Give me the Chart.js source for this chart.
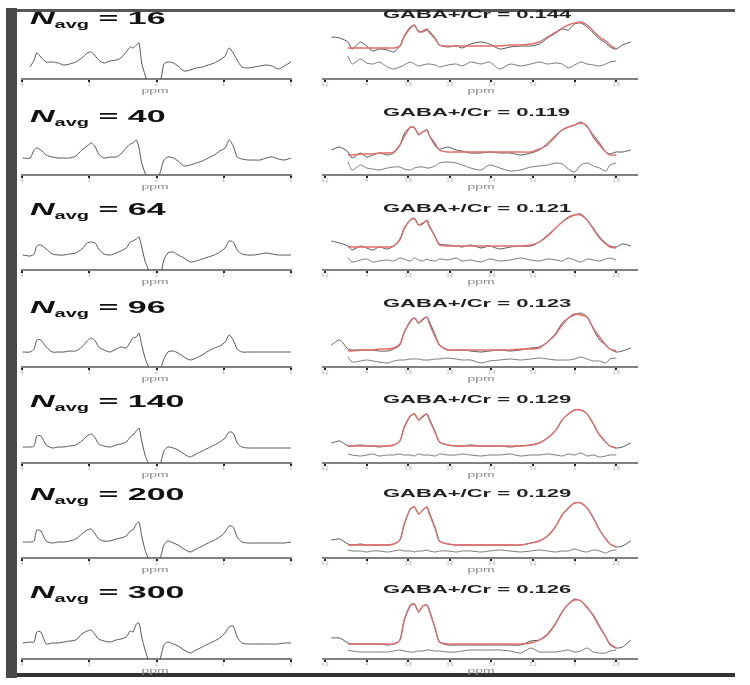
<!DOCTYPE html>
<html>
<head>
<meta charset="utf-8">
<script src="https://cdn.jsdelivr.net/npm/chart.js@4.4.0/dist/chart.umd.min.js"></script>
<style>
  body { margin: 0; width: 750px; height: 685px; background: #fff; position: relative; overflow: hidden; font-family: "Liberation Sans", Arial, sans-serif; }
  .marco { position: absolute; }
  #marcoIzq { left: 6px; top: 8px; width: 11px; height: 670px; background: #4a4a4a; }
  #marcoSup { left: 17px; top: 9px; width: 718px; height: 3px; background: #555; }
  #marcoInf { left: 17px; top: 673px; width: 718px; height: 4px; background: #333; }
  canvas { position: absolute; }
  .navg { position: absolute; left: 30px; font-weight: bold; font-size: 17px; line-height: 1; color: #111; white-space: nowrap; transform: scaleX(2); transform-origin: 0 0; }
  .navg i { font-style: italic; }
  .navg sub { font-size: 10px; vertical-align: -4px; line-height: 1; }
  .ratio { position: absolute; left: 383px; font-weight: bold; font-size: 11px; line-height: 1; color: #222; white-space: nowrap; transform: scaleX(2); transform-origin: 0 0; }
  .ppm { position: absolute; font-size: 7px; line-height: 1; color: #888; white-space: nowrap; transform: scaleX(2) translateX(-50%); transform-origin: 0 0; }
</style>
</head>
<body>
<div class="marco" id="marcoIzq"></div>
<div class="marco" id="marcoSup"></div>
<div class="marco" id="marcoInf"></div>
<script>
// chemical shift grids (ppm)
const leftPpm = [
  3.99, 3.88, 3.82, 3.78, 3.72, 3.64, 3.55, 3.46, 3.38, 3.29,
  3.20, 3.11, 3.03, 2.97, 2.91, 2.86, 2.78, 2.69, 2.60, 2.53,
  2.45, 2.39, 2.35, 2.30, 2.26, 2.22, 2.17, 2.13, 2.07, 1.99,
  1.93, 1.89, 1.83, 1.75, 1.68, 1.59, 1.50, 1.41, 1.32, 1.23,
  1.14, 1.06, 0.98, 0.92, 0.86, 0.80, 0.73, 0.64, 0.55, 0.46,
  0.37, 0.28, 0.19, 0.10, 0.00
];
const rightPpm = [
  4.17, 4.13, 4.09, 4.07, 4.03, 4.00, 3.97, 3.94, 3.90, 3.87,
  3.84, 3.82, 3.79, 3.77, 3.75, 3.73, 3.71, 3.70, 3.67, 3.65,
  3.61, 3.57, 3.54, 3.50, 3.45, 3.41, 3.36, 3.31, 3.26, 3.21,
  3.17, 3.13, 3.09, 3.06, 3.03, 3.00, 2.97, 2.94, 2.91, 2.88,
  2.85, 2.83, 2.80, 2.77, 2.73
];
const leftTicks = [4, 3, 2, 1, 0];
const rightTicks = [4.2, 4, 3.8, 3.6, 3.4, 3.2, 3, 2.8];

const nAvg = [16, 40, 64, 96, 140, 200, 300];
const gabaCr = ["0.144", "0.119", "0.121", "0.123", "0.129", "0.129", "0.126"];

// difference spectra (left column)
const spec16 = [
  null, 12, 19, 26, 22, 17, 17, 16, 14, 15,
  17, 21, 26, 27, 23, 19, 16, 18, 19, 21,
  27, 32, 31, 34, 36, 16, 4, -4, -12, -10,
  1, 15, 17, 16, 13, 8, 9, 11, 12, 14,
  16, 19, 23, 31, 26, 19, 12, 11, 12, 13,
  14, 13, 10, 13, 17
];
const spec40 = [
  17, 17, 25, 27, 25, 20, 18, 17, 17, 17,
  19, 25, 29, 32, 28, 21, 17, 18, 18, 21,
  27, 31, 32, 35, 27, 12, 2, -5, -12, -6,
  6, 15, 18, 17, 14, 9, 10, 12, 14, 17,
  20, 24, 27, 35, 29, 18, 16, 15, 15, 15,
  17, 18, 16, 15, 17
];
const spec64 = [
  15, 14, 16, 24, 25, 21, 16, 15, 15, 16,
  17, 21, 27, 28, 27, 21, 16, 15, 17, 19,
  22, 28, 29, 31, 33, 23, 9, 2, -8, -10,
  -2, 10, 17, 18, 15, 12, 8, 9, 11, 13,
  15, 18, 22, 29, 28, 20, 16, 15, 15, 16,
  17, 16, 15, 15, 15
];
const spec96 = [
  15, 15, 18, 27, 27, 20, 15, 15, 15, 16,
  16, 20, 26, 29, 26, 20, 17, 15, 18, 20,
  19, 25, 29, 30, 34, 22, 9, 2, -6, -8,
  0, 8, 15, 16, 14, 10, 7, 9, 12, 16,
  19, 21, 25, 32, 27, 18, 15, 15, 15, 15,
  15, 15, 15, 15, 15
];
const spec140 = [
  16, 16, 17, 27, 27, 18, 15, 16, 16, 17,
  18, 22, 27, 29, 25, 19, 17, 16, 18, 19,
  21, 26, 28, 32, 35, 22, 8, 1, -7, -8,
  2, 12, 16, 15, 13, 9, 6, 9, 12, 15,
  18, 21, 25, 31, 30, 20, 16, 15, 15, 15,
  15, 15, 15, 15, 15
];
const spec200 = [
  16, 16, 17, 28, 27, 17, 15, 16, 16, 17,
  19, 24, 28, 29, 24, 19, 17, 17, 19, 20,
  22, 27, 28, 34, 36, 22, 8, 1, -7, -8,
  3, 13, 17, 15, 13, 9, 6, 9, 12, 15,
  18, 21, 26, 32, 31, 21, 16, 15, 15, 15,
  15, 15, 15, 15, 16
];
const spec300 = [
  16, 17, 17, 27, 27, 15, 16, 16, 17, 18,
  19, 25, 28, 29, 24, 20, 18, 17, 19, 20,
  22, 28, 27, 35, 36, 22, 9, 1, -8, -8,
  4, 14, 17, 15, 13, 9, 6, 9, 12, 15,
  18, 21, 26, 32, 33, 22, 16, 15, 15, 15,
  15, 15, 15, 16, 16
];

// GABA fit region (right column): data, fit, residual
const data16 = [
  42, 41, 37, 30, 37, 33, 28, 30, 29, 27,
  33, 43, 52, 53, 48, 47, 49, 48, 41, 34,
  32, 33, 31, 35, 37, 35, 30, 32, 33, 33,
  35, 41, 46, 50, 49, 55, 56, 52, 46, 40,
  36, 32, 30, 34, 37
];
const fit16 = [
  null, null, 31, 31, 31, 31, 31, 31, 31, 31,
  33, 42, 51, 54, 47, 48, 50, 47, 40, 34,
  33, 33, 33, 33, 33, 33, 33, 34, 34, 35,
  37, 42, 47, 51, 54, 56, 57, 54, 48, 42,
  38, 34, 30, null, null
];
const res16 = [
  null, null, 23, 15, 20, 16, 15, 17, 12, 10,
  12, 14, 17, 15, 13, 14, 15, 15, 14, 12,
  14, 15, 13, 17, 15, 17, 10, 15, 13, 15,
  17, 15, 16, 15, 11, 14, 17, 15, 14, 13,
  15, 17, 18, null, null
];
const data40 = [
  25, 28, 23, 17, 22, 18, 20, 22, 20, 22,
  30, 41, 48, 47, 40, 43, 45, 40, 29, 26,
  28, 25, 24, 22, 22, 23, 22, 22, 20, 22,
  25, 32, 40, 45, 48, 50, 53, 48, 40, 32,
  23, 21, 23, 23, 25
];
const fit40 = [
  null, null, 20, 20, 21, 21, 21, 22, 22, 23,
  30, 38, 48, 47, 41, 43, 45, 40, 31, 25,
  23, 23, 23, 23, 23, 23, 23, 23, 23, 23,
  26, 30, 39, 45, 48, 50, 52, 49, 38, 30,
  23, 20, 20, null, null
];
const res40 = [
  null, null, 13, 5, 10, 7, 6, 5, 7, 8,
  8, 6, 5, 7, 8, 8, 7, 7, 9, 12,
  13, 12, 10, 7, 5, 10, 7, 4, 5, 8,
  9, 10, 12, 11, 6, 3, 10, 12, 9, 7,
  4, 10, 12, null, null
];
const data64 = [
  29, 27, 24, 20, 24, 22, 20, 23, 21, 24,
  31, 42, 50, 52, 45, 46, 50, 45, 33, 26,
  25, 24, 23, 25, 22, 24, 21, 23, 24, 24,
  28, 35, 42, 48, 52, 55, 56, 50, 42, 33,
  27, 24, 23, 26, 24
];
const fit64 = [
  null, null, 23, 23, 23, 23, 23, 23, 23, 24,
  30, 41, 50, 51, 45, 47, 49, 44, 33, 25,
  24, 24, 24, 24, 24, 24, 24, 24, 24, 25,
  28, 34, 42, 48, 53, 55, 55, 50, 41, 32,
  26, 23, 22, null, null
];
const res64 = [
  null, null, 12, 8, 10, 11, 8, 9, 10, 9,
  12, 11, 9, 12, 10, 9, 11, 10, 9, 11,
  10, 12, 9, 10, 8, 11, 9, 10, 12, 10,
  9, 11, 10, 9, 12, 10, 8, 11, 10, 9,
  11, 12, 10, null, null
];
const data96 = [
  22, 27, 18, 17, 17, 17, 17, 16, 16, 18,
  22, 35, 45, 49, 44, 47, 50, 46, 32, 22,
  17, 17, 17, 16, 15, 16, 17, 16, 17, 19,
  20, 25, 34, 44, 49, 52, 54, 50, 38, 27,
  22, 18, 15, 16, 19
];
const fit96 = [
  null, null, 16, 16, 17, 17, 17, 18, 18, 19,
  23, 34, 46, 49, 44, 48, 50, 44, 30, 22,
  17, 17, 17, 17, 17, 17, 17, 17, 18, 18,
  19, 25, 33, 42, 49, 53, 52, 50, 39, 30,
  22, 18, 16, null, null
];
const res96 = [
  null, null, 10, 5, 6, 7, 6, 5, 4, 6,
  7, 7, 8, 8, 8, 7, 7, 7, 8, 8,
  9, 8, 7, 7, 4, 6, 7, 8, 7, 8,
  9, 8, 7, 7, 7, 8, 10, 8, 6, 6,
  4, 8, 9, null, null
];
const data140 = [
  20, 22, 17, 17, 18, 17, 17, 16, 17, 18,
  22, 36, 47, 49, 43, 46, 49, 45, 31, 21,
  18, 17, 17, 18, 17, 17, 17, 16, 17, 18,
  20, 25, 33, 43, 49, 53, 53, 49, 39, 28,
  21, 17, 15, 16, 20
];
const fit140 = [
  null, null, 17, 17, 17, 17, 17, 17, 17, 18,
  22, 35, 47, 49, 43, 47, 49, 44, 30, 21,
  18, 17, 17, 17, 17, 17, 17, 17, 17, 18,
  20, 25, 33, 43, 49, 53, 53, 49, 39, 28,
  21, 17, 15, null, null
];
const res140 = [
  null, null, 9, 8, 7, 8, 9, 7, 8, 8,
  9, 8, 8, 7, 9, 8, 8, 8, 7, 9,
  8, 8, 9, 8, 7, 8, 8, 9, 7, 8,
  8, 9, 8, 7, 9, 8, 10, 7, 8, 6,
  7, 8, 8, null, null
];
const data200 = [
  18, 19, 14, 13, 14, 13, 13, 13, 13, 14,
  18, 34, 49, 51, 44, 48, 51, 46, 30, 17,
  14, 13, 13, 13, 13, 13, 13, 13, 13, 15,
  17, 22, 32, 43, 50, 55, 55, 50, 40, 28,
  19, 14, 11, 12, 17
];
const fit200 = [
  null, null, 13, 13, 13, 13, 13, 13, 13, 14,
  18, 33, 49, 51, 44, 48, 51, 45, 29, 17,
  14, 13, 13, 13, 13, 13, 13, 13, 13, 15,
  17, 22, 32, 43, 50, 55, 55, 50, 40, 28,
  19, 14, 11, null, null
];
const res200 = [
  null, null, 8, 7, 7, 6, 7, 7, 6, 7,
  8, 7, 7, 6, 7, 7, 8, 7, 6, 7,
  7, 6, 7, 7, 6, 7, 8, 7, 6, 7,
  8, 7, 6, 7, 7, 9, 7, 6, 8, 7,
  5, 7, 8, null, null
];
const data300 = [
  21, 21, 16, 15, 15, 15, 15, 15, 14, 15,
  19, 39, 54, 55, 47, 53, 54, 50, 30, 17,
  14, 14, 14, 14, 14, 14, 14, 14, 14, 18,
  19, 24, 36, 47, 55, 60, 58, 51, 44, 33,
  22, 14, 11, 12, 19
];
const fit300 = [
  null, null, 15, 15, 15, 15, 15, 15, 15, 15,
  19, 38, 53, 55, 47, 53, 54, 49, 30, 17,
  15, 15, 15, 15, 15, 15, 15, 15, 15, 16,
  19, 25, 36, 47, 55, 59, 58, 52, 43, 32,
  22, 15, 11, null, null
];
const res300 = [
  null, null, 9, 8, 7, 7, 7, 7, 7, 8,
  9, 8, 7, 7, 8, 8, 9, 9, 8, 8,
  7, 7, 8, 9, 9, 9, 9, 8, 6, 11,
  7, 7, 7, 8, 9, 7, 8, 11, 7, 6,
  6, 8, 9, null, null
];

const specs = [spec16, spec40, spec64, spec96, spec140, spec200, spec300];
const datos = [data16, data40, data64, data96, data140, data200, data300];
const fits = [fit16, fit40, fit64, fit96, fit140, fit200, fit300];
const residuos = [res16, res40, res64, res96, res140, res200, res300];

// page layout (pixels)
const ejeY = [79, 175, 270, 367, 463, 558, 659];
const tituloY = [24, 122, 215, 313, 407, 500, 598];
const ratioY = [18, 116, 212, 307, 403, 497, 593];
const ALTO = 70;

function puntos(xs, ys) {
  return xs.map((x, i) => ({ x: x, y: ys[i] }));
}

function crearPanel(left, top, width, series, xMin, xMax, ticks) {
  const canvas = document.createElement("canvas");
  canvas.width = width;
  canvas.height = ALTO + 14;
  canvas.style.left = left + "px";
  canvas.style.top = top + "px";
  document.body.appendChild(canvas);

  new Chart(canvas, {
    type: "line",
    data: {
      datasets: series.map(s => ({
        data: s.data,
        borderColor: s.color,
        borderWidth: s.width || 1,
        pointRadius: 0,
        tension: 0.25,
        spanGaps: false
      }))
    },
    options: {
      responsive: false,
      animation: false,
      devicePixelRatio: 1,
      layout: { padding: { left: 10, right: 10, top: 0, bottom: 0 } },
      plugins: { legend: { display: false }, tooltip: { enabled: false } },
      scales: {
        x: {
          type: "linear",
          min: xMin,
          max: xMax,
          reverse: true,
          afterBuildTicks: axis => { axis.ticks = ticks.map(v => ({ value: v })); },
          afterFit: axis => { axis.height = 14; },
          border: { display: true, color: "#808080", width: 2 },
          grid: { display: true, drawOnChartArea: false, drawTicks: true, tickLength: 3, color: "#222", lineWidth: 2 },
          ticks: { font: { size: 5 }, color: "#aaa", padding: 0, maxRotation: 0, autoSkip: false, callback: v => String(v) }
        },
        y: { display: false, min: 0, max: ALTO }
      }
    }
  });
}

function agregarTexto(clase, html, left, top) {
  const div = document.createElement("div");
  div.className = clase;
  div.innerHTML = html;
  if (left !== null) div.style.left = left + "px";
  div.style.top = top + "px";
  document.body.appendChild(div);
}

document.addEventListener("DOMContentLoaded", () => {
  nAvg.forEach((n, i) => {
    const y = ejeY[i];

    // left: edited spectrum
    crearPanel(12, y - ALTO, 289, [
      { data: puntos(leftPpm, specs[i]), color: "#555" }
    ], 0, 4, leftTicks);

    // right: data, fit and residual
    crearPanel(313, y - ALTO, 334, [
      { data: puntos(rightPpm, fits[i]), color: "#e46a6a", width: 1.4 },
      { data: puntos(rightPpm, datos[i]), color: "#555" },
      { data: puntos(rightPpm, residuos[i]), color: "#777" }
    ], 2.70, 4.21, rightTicks);

    agregarTexto("navg", `<i>N</i><sub>avg</sub> = ${n}`, null, tituloY[i] - 14);
    agregarTexto("ratio", `GABA+/Cr = ${gabaCr[i]}`, null, ratioY[i] - 9);
    agregarTexto("ppm", "ppm", 155, y + 8);
    agregarTexto("ppm", "ppm", 481, y + 8);
  });
});
</script>
</body>
</html>
